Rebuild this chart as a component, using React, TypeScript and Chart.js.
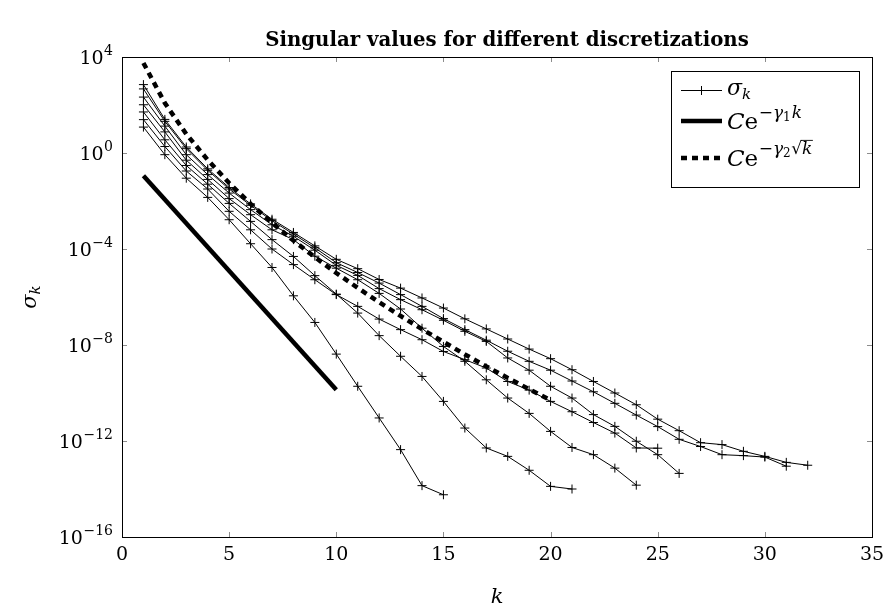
import React, { useEffect, useRef } from "react";
import { Chart, registerables } from "chart.js";

Chart.register(...registerables);

// ---------- data (log10 of singular values) ----------
const kIndex = Array.from({ length: 32 }, (_, i) => i + 1);

const sigma32Log = [2.85, 1.4, 0.25, -0.66, -1.44, -2.12, -2.76, -3.31, -3.87, -4.43, -4.82, -5.27, -5.63, -6.04, -6.46, -6.91, -7.33, -7.75, -8.17, -8.57, -9.03, -9.52, -10.0, -10.49, -11.09, -11.57, -12.07, -12.15, -12.43, -12.64, -12.89, -13.01];
const sigma31Log = [2.67, 1.32, 0.18, -0.72, -1.5, -2.18, -2.82, -3.38, -3.95, -4.57, -4.98, -5.42, -5.9, -6.39, -6.9, -7.36, -7.8, -8.26, -8.68, -9.05, -9.5, -9.95, -10.43, -10.92, -11.4, -11.93, -12.23, -12.57, -12.61, -12.67, -13.05];
const sigma26Log = [2.33, 1.12, -0.07, -0.9, -1.67, -2.36, -2.99, -3.47, -4.05, -4.68, -5.1, -5.65, -6.11, -6.53, -6.97, -7.43, -7.85, -8.54, -9.05, -9.72, -10.21, -10.9, -11.39, -12.01, -12.57, -13.35];
const sigma25Log = [1.39, 0.27, -0.75, -1.5, -2.43, -3.2, -4.0, -4.65, -5.28, -5.9, -6.39, -6.92, -7.36, -7.78, -8.27, -8.61, -8.96, -9.52, -9.88, -10.35, -10.78, -11.23, -11.67, -12.29, -12.3];
const sigma24Log = [2.01, 0.88, -0.3, -1.1, -1.9, -2.57, -3.2, -3.61, -4.3, -4.8, -5.28, -5.85, -6.5, -7.3, -8.06, -8.68, -9.45, -10.21, -10.85, -11.6, -12.27, -12.57, -13.13, -13.84];
const sigma21Log = [1.71, 0.55, -0.52, -1.3, -2.1, -2.85, -3.61, -4.31, -5.11, -5.88, -6.67, -7.61, -8.47, -9.31, -10.35, -11.46, -12.29, -12.64, -13.22, -13.89, -14.0];
const sigma15Log = [1.08, -0.07, -1.05, -1.85, -2.78, -3.78, -4.77, -5.95, -7.06, -8.38, -9.72, -11.04, -12.36, -13.86, -14.24];

// fitted curves
const expFitK = [1, 10];
const expFitLog = [-0.95, -9.86];
const sqrtFitK = kIndex.slice(0, 20);
const sqrtFitLog = [3.75, 2.08, 0.79, -0.29, -1.25, -2.12, -2.91, -3.65, -4.34, -5.0, -5.62, -6.22, -6.79, -7.34, -7.87, -8.39, -8.89, -9.37, -9.84, -10.3];

const sigmaSeries = [sigma32Log, sigma31Log, sigma26Log, sigma25Log, sigma24Log, sigma21Log, sigma15Log];

const xTickValues = [0, 5, 10, 15, 20, 25, 30, 35];
const yTickExponents = [-16, -12, -8, -4, 0, 4];

const titleText = "Singular values for different discretizations";

// ---------- helpers ----------
const SERIF = '"DejaVu Serif", serif';
const fnt = (size: number, italic = false, bold = false) =>
  `${italic ? "italic " : ""}${bold ? "bold " : ""}${size}px ${SERIF}`;

type Run = { t: string; size: number; italic?: boolean; dy?: number; over?: boolean; dx?: number };

function measureRuns(ctx: CanvasRenderingContext2D, runs: Run[]) {
  let w = 0;
  for (const r of runs) {
    ctx.font = fnt(r.size, r.italic);
    w += ctx.measureText(r.t).width + (r.dx || 0);
  }
  return w;
}

function drawRuns(ctx: CanvasRenderingContext2D, x: number, y: number, runs: Run[]) {
  let cx = x;
  ctx.textAlign = "left";
  ctx.textBaseline = "alphabetic";
  for (const r of runs) {
    ctx.font = fnt(r.size, r.italic);
    cx += r.dx || 0;
    const yy = y + (r.dy || 0);
    ctx.fillText(r.t, cx, yy);
    const w = ctx.measureText(r.t).width;
    if (r.over) {
      ctx.save();
      ctx.lineWidth = 0.9;
      ctx.beginPath();
      ctx.moveTo(cx - 1.5, yy - r.size * 0.8);
      ctx.lineTo(cx + w + 0.5, yy - r.size * 0.8);
      ctx.stroke();
      ctx.restore();
    }
    cx += w;
  }
  return cx - x;
}

const toPoints = (ks: number[], logs: number[]) => logs.map((v, i) => ({ x: ks[i], y: Math.pow(10, v) }));

const decorPlugin = {
  id: "decor",
  beforeDatasetsDraw(chart: any) {
    const ctx: CanvasRenderingContext2D = chart.ctx;
    const a = chart.chartArea;
    const xs = chart.scales.x;
    const ys = chart.scales.y;
    ctx.save();
    ctx.strokeStyle = "#8c8c8c";
    ctx.lineWidth = 1;
    const tl = 5;
    for (const v of xTickValues) {
      const px = Math.round(xs.getPixelForValue(v)) + 0.5;
      ctx.beginPath();
      ctx.moveTo(px, a.bottom);
      ctx.lineTo(px, a.bottom - tl);
      ctx.moveTo(px, a.top);
      ctx.lineTo(px, a.top + tl);
      ctx.stroke();
    }
    for (const e of yTickExponents) {
      const py = Math.round(ys.getPixelForValue(Math.pow(10, e))) + 0.5;
      ctx.beginPath();
      ctx.moveTo(a.left, py);
      ctx.lineTo(a.left + tl, py);
      ctx.moveTo(a.right, py);
      ctx.lineTo(a.right - tl, py);
      ctx.stroke();
    }
    ctx.restore();
  },
  afterDraw(chart: any) {
    const ctx: CanvasRenderingContext2D = chart.ctx;
    const a = chart.chartArea;
    const xs = chart.scales.x;
    const ys = chart.scales.y;
    ctx.save();
    ctx.fillStyle = "#000";
    ctx.strokeStyle = "#000";

    // frame
    ctx.lineWidth = 1;
    ctx.strokeRect(Math.round(a.left) + 0.5, Math.round(a.top) + 0.5, Math.round(a.right - a.left), Math.round(a.bottom - a.top));

    // x tick labels
    ctx.font = fnt(19);
    ctx.textAlign = "center";
    ctx.textBaseline = "alphabetic";
    for (const v of xTickValues) {
      ctx.fillText(String(v), xs.getPixelForValue(v), a.bottom + 23);
    }

    // y tick labels 10^e
    for (const e of yTickExponents) {
      const py = ys.getPixelForValue(Math.pow(10, e));
      const runs: Run[] = [
        { t: "10", size: 19, dy: 7 },
        { t: e < 0 ? "\u2212" + String(-e) : String(e), size: 14, dy: -2, dx: 0.5 },
      ];
      const w = measureRuns(ctx, runs);
      drawRuns(ctx, a.left - 9 - w, py, runs);
    }

    // title
    let tsize = 19;
    ctx.font = fnt(tsize, false, true);
    const tw = ctx.measureText(titleText).width;
    tsize = (tsize * 484) / tw;
    ctx.font = fnt(tsize, false, true);
    ctx.textAlign = "center";
    ctx.fillText(titleText, 507, 46);

    // x label
    ctx.font = fnt(21, true);
    ctx.textAlign = "center";
    ctx.fillText("k", (a.left + a.right) / 2, 603);

    // y label
    ctx.save();
    ctx.translate(36, (a.top + a.bottom) / 2);
    ctx.rotate(-Math.PI / 2);
    const yl: Run[] = [
      { t: "\u03C3", size: 21, italic: true },
      { t: "k", size: 15, italic: true, dy: 4 },
    ];
    const yw = measureRuns(ctx, yl);
    drawRuns(ctx, -yw / 2, 0, yl);
    ctx.restore();

    // legend
    const lx = 671, ly = 71, lw = 188, lh = 116;
    ctx.fillStyle = "#fff";
    ctx.fillRect(lx, ly, lw, lh);
    ctx.strokeStyle = "#000";
    ctx.lineWidth = 1;
    ctx.strokeRect(lx + 0.5, ly + 0.5, lw, lh);
    ctx.fillStyle = "#000";
    const sx0 = 681, sx1 = 722, tx = 727;
    // row 1
    let ry = 90.5;
    ctx.lineWidth = 1;
    ctx.beginPath();
    ctx.moveTo(sx0, ry);
    ctx.lineTo(sx1, ry);
    ctx.moveTo((sx0 + sx1) / 2, ry - 4.5);
    ctx.lineTo((sx0 + sx1) / 2, ry + 4.5);
    ctx.moveTo((sx0 + sx1) / 2 - 4.5, ry);
    ctx.lineTo((sx0 + sx1) / 2 + 4.5, ry);
    ctx.stroke();
    drawRuns(ctx, tx, ry + 4, [
      { t: "\u03C3", size: 22, italic: true },
      { t: "k", size: 15, italic: true, dy: 4 },
    ]);
    // row 2
    ry = 121;
    ctx.lineWidth = 4.5;
    ctx.beginPath();
    ctx.moveTo(sx0, ry);
    ctx.lineTo(sx1, ry);
    ctx.stroke();
    drawRuns(ctx, tx, ry + 8, [
      { t: "C", size: 23, italic: true },
      { t: "e", size: 23 },
      { t: "\u2212", size: 17, dy: -11, dx: 0.5 },
      { t: "\u03B3", size: 17, italic: true, dy: -11 },
      { t: "1", size: 12, dy: -8 },
      { t: "k", size: 17, italic: true, dy: -11, dx: 1 },
    ]);
    // row 3
    ry = 158;
    ctx.lineWidth = 4.5;
    ctx.setLineDash([6, 5]);
    ctx.beginPath();
    ctx.moveTo(sx0, ry);
    ctx.lineTo(sx1, ry);
    ctx.stroke();
    ctx.setLineDash([]);
    drawRuns(ctx, tx, ry + 8, [
      { t: "C", size: 23, italic: true },
      { t: "e", size: 23 },
      { t: "\u2212", size: 17, dy: -12, dx: 0.5 },
      { t: "\u03B3", size: 17, italic: true, dy: -12 },
      { t: "2", size: 12, dy: -9 },
      { t: "\u221A", size: 17, dy: -12, dx: 0.5 },
      { t: "k", size: 17, italic: true, dy: -12, over: true },
    ]);
    ctx.restore();
  },
};

export default function App() {
  const ref = useRef<HTMLCanvasElement>(null);
  useEffect(() => {
    const sigmaDatasets = sigmaSeries.map((s) => ({
      data: toPoints(kIndex, s),
      borderColor: "#000",
      backgroundColor: "#000",
      borderWidth: 1,
      pointStyle: "cross" as const,
      pointRadius: 4.5,
      pointBorderWidth: 1,
      pointBorderColor: "#000",
      tension: 0,
      fill: false,
    }));
    const chart = new Chart(ref.current!, {
      type: "line",
      data: {
        datasets: [
          ...sigmaDatasets,
          {
            data: toPoints(expFitK, expFitLog),
            borderColor: "#000",
            borderWidth: 4.5,
            pointRadius: 0,
            borderCapStyle: "butt",
            fill: false,
          },
          {
            data: toPoints(sqrtFitK, sqrtFitLog),
            borderColor: "#000",
            borderWidth: 4.5,
            borderDash: [6, 5],
            pointRadius: 0,
            borderCapStyle: "butt",
            fill: false,
          },
        ] as any,
      },
      options: {
        animation: false,
        responsive: false,
        maintainAspectRatio: false,
        parsing: true,
        layout: { padding: { left: 122, top: 57, right: 15, bottom: 72 } },
        plugins: { legend: { display: false }, tooltip: { enabled: false }, title: { display: false } },
        events: [],
        scales: {
          x: { type: "linear", min: 0, max: 35, display: false },
          y: { type: "logarithmic", min: 1e-16, max: 1e4, display: false },
        },
      },
      plugins: [decorPlugin],
    });
    return () => chart.destroy();
  }, []);
  return (
    <div style={{ position: "fixed", left: 0, top: 0, width: 887, height: 609, background: "#fff" }}>
      <canvas ref={ref} width={887} height={609} style={{ display: "block", width: 887, height: 609 }} />
    </div>
  );
}
